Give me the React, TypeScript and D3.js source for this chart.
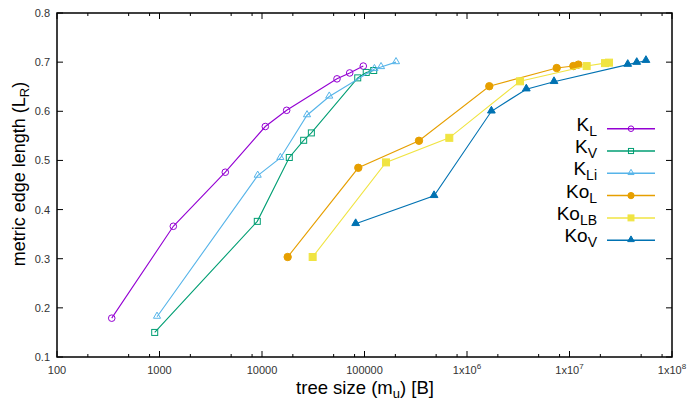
import React from "react";
import * as d3 from "d3";

// tree size (bytes) and metric edge length per series
const kLSize = [342, 1364, 4385, 10770, 17400, 53900, 71700, 97300];
const kLLen = [0.179, 0.366, 0.476, 0.569, 0.602, 0.666, 0.678, 0.692];

const kVSize = [898, 8996, 18460, 25500, 30300, 85900, 104000, 123000];
const kVLen = [0.15, 0.376, 0.506, 0.541, 0.556, 0.668, 0.679, 0.683];

const kLiSize = [946, 9080, 15100, 27500, 45300, 125000, 145000, 203000];
const kLiLen = [0.182, 0.469, 0.505, 0.592, 0.63, 0.686, 0.69, 0.7];

const koLSize = [17800, 87000, 340000, 1.65e6, 7.5e6, 1.09e7, 1.22e7];
const koLLen = [0.3035, 0.485, 0.54, 0.651, 0.688, 0.692, 0.695];

const koLBSize = [31200, 162000, 672000, 3.29e6, 1.47e7, 2.22e7, 2.43e7];
const koLBLen = [0.3035, 0.496, 0.546, 0.661, 0.692, 0.698, 0.699];

const koVSize = [82000, 477000, 1.73e6, 3.79e6, 7.06e6, 3.7e7, 4.53e7, 5.57e7];
const koVLen = [0.371, 0.428, 0.6, 0.645, 0.66, 0.695, 0.699, 0.703];

const xTicks = [100, 1000, 10000, 100000, 1e6, 1e7, 1e8];
const yTicks = [0.1, 0.2, 0.3, 0.4, 0.5, 0.6, 0.7, 0.8];

type Marker = "circle" | "square" | "triangle";

const series = [
  { base: "K", sub: "L", xs: kLSize, ys: kLLen, color: "#9400d3", marker: "circle" as Marker, filled: false },
  { base: "K", sub: "V", xs: kVSize, ys: kVLen, color: "#009e73", marker: "square" as Marker, filled: false },
  { base: "K", sub: "Li", xs: kLiSize, ys: kLiLen, color: "#56b4e9", marker: "triangle" as Marker, filled: false },
  { base: "Ko", sub: "L", xs: koLSize, ys: koLLen, color: "#e69f00", marker: "circle" as Marker, filled: true },
  { base: "Ko", sub: "LB", xs: koLBSize, ys: koLBLen, color: "#f0e442", marker: "square" as Marker, filled: true },
  { base: "Ko", sub: "V", xs: koVSize, ys: koVLen, color: "#0072b2", marker: "triangle" as Marker, filled: true },
];

const W = 687;
const H = 403;
const m = { left: 57, right: 672, top: 13, bottom: 357 };
const font = "'Liberation Sans', Arial, sans-serif";

const x = d3.scaleLog().domain([100, 1e8]).range([m.left, m.right]);
const y = d3.scaleLinear().domain([0.1, 0.8]).range([m.bottom, m.top]);

const Mark = ({ cx, cy, type, color, filled, k = 1 }: { cx: number; cy: number; type: Marker; color: string; filled: boolean; k?: number }) => {
  const fill = filled ? color : "none";
  if (type === "circle") {
    return <circle cx={cx} cy={cy} r={(filled ? 3.7 : 3.3) * k} fill={fill} stroke={color} strokeWidth={1} />;
  }
  if (type === "square") {
    const s = (filled ? 7 : 6) * k;
    return <rect x={cx - s / 2} y={cy - s / 2} width={s} height={s} fill={fill} stroke={color} strokeWidth={1} />;
  }
  const tri = d3.symbol(d3.symbolTriangle, (filled ? 26 : 22) * k * k)();
  return <path d={tri || ""} transform={`translate(${cx},${cy - 0.5})`} fill={fill} stroke={color} strokeWidth={1} />;
};

const xLabel = (v: number) => {
  const e = Math.round(Math.log10(v));
  if (e < 6) return <tspan>{String(v)}</tspan>;
  return (
    <>
      <tspan>1x10</tspan>
      <tspan dy={-5} fontSize={8}>{e}</tspan>
    </>
  );
};

export default function App() {
  const minors: number[] = [];
  for (let e = 2; e < 8; e++) [2, 5, 8].forEach((k) => minors.push(k * Math.pow(10, e)));
  const line = d3.line<[number, number]>().x((d) => x(d[0])).y((d) => y(d[1]));

  return (
    <svg width={W} height={H} style={{ position: "absolute", left: 0, top: 0, background: "#fff" }} fontFamily={font}>
      {/* ticks, drawn inward on all four sides */}
      <g stroke="#000" strokeWidth={1}>
        {xTicks.map((t) => (
          <g key={"xt" + t}>
            <line x1={x(t)} x2={x(t)} y1={m.bottom} y2={m.bottom - 6} />
            <line x1={x(t)} x2={x(t)} y1={m.top} y2={m.top + 6} />
          </g>
        ))}
        {minors.map((t) => (
          <g key={"xm" + t}>
            <line x1={x(t)} x2={x(t)} y1={m.bottom} y2={m.bottom - 3} />
            <line x1={x(t)} x2={x(t)} y1={m.top} y2={m.top + 3} />
          </g>
        ))}
        {yTicks.map((t) => (
          <g key={"yt" + t}>
            <line x1={m.left} x2={m.left + 6} y1={y(t)} y2={y(t)} />
            <line x1={m.right} x2={m.right - 6} y1={y(t)} y2={y(t)} />
          </g>
        ))}
      </g>
      <rect x={m.left} y={m.top} width={m.right - m.left} height={m.bottom - m.top} fill="none" stroke="#000" strokeWidth={1.5} />

      <g fontSize={11} fill="#333">
        {xTicks.map((t) => (
          <text key={"xl" + t} x={x(t)} y={m.bottom + 17} textAnchor="middle">
            {xLabel(t)}
          </text>
        ))}
        {yTicks.map((t) => (
          <text key={"yl" + t} x={m.left - 7} y={y(t) + 4} textAnchor="end">
            {t.toFixed(1)}
          </text>
        ))}
      </g>

      <text x={365} y={394} textAnchor="middle" fontSize={18.5} fill="#000">
        tree size (m<tspan dy={4} fontSize={13}>u</tspan>
        <tspan dy={-4}>) [B]</tspan>
      </text>
      <text transform={`translate(25,174) rotate(-90)`} textAnchor="middle" fontSize={18} fill="#000">
        metric edge length (L<tspan dy={4} fontSize={13}>R</tspan>
        <tspan dy={-4}>)</tspan>
      </text>

      {series.map((s) => {
        const pts = s.xs.map((v, i) => [v, s.ys[i]] as [number, number]);
        return (
          <g key={s.base + s.sub}>
            <path d={line(pts) || ""} fill="none" stroke={s.color} strokeWidth={1.1} />
            {pts.map((p, i) => (
              <Mark key={i} cx={x(p[0])} cy={y(p[1])} type={s.marker} color={s.color} filled={s.filled} />
            ))}
          </g>
        );
      })}

      {/* legend */}
      {series.map((s, i) => {
        const ly = 128.7 + i * 22.3;
        return (
          <g key={"lg" + i}>
            <text x={597} y={ly + 2} textAnchor="end" fontSize={19} fill="#000">
              {s.base}
              <tspan dy={5} fontSize={14}>{s.sub}</tspan>
            </text>
            <line x1={607} x2={655} y1={ly} y2={ly} stroke={s.color} strokeWidth={1.5} />
            <Mark cx={631} cy={ly} type={s.marker} color={s.color} filled={s.filled} k={0.85} />
          </g>
        );
      })}
    </svg>
  );
}
